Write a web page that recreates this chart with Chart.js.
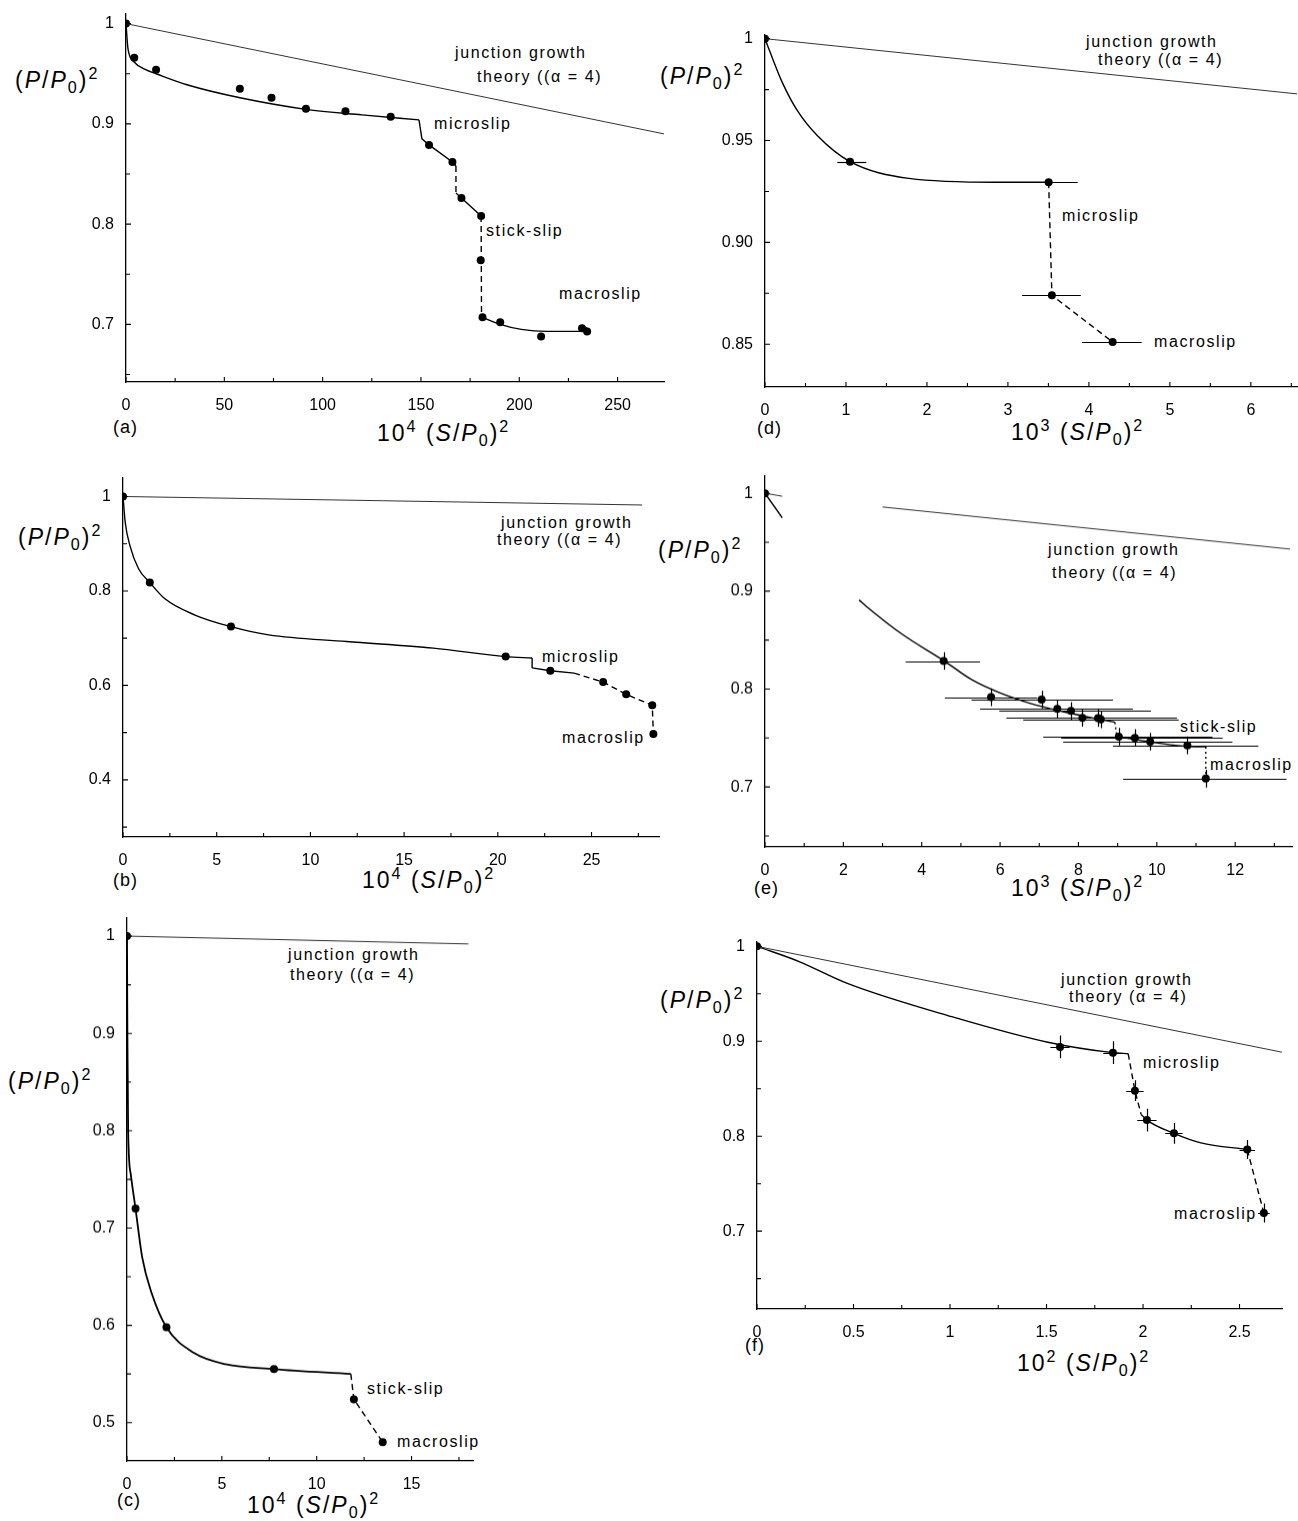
<!DOCTYPE html>
<html>
<head>
<meta charset="utf-8">
<script src="https://cdn.jsdelivr.net/npm/chart.js@4.4.1/dist/chart.umd.min.js"></script>
<style>
  body { margin: 0; background: #fff; width: 1298px; height: 1521px; position: relative; overflow: hidden;
         font-family: "Liberation Sans", Arial, sans-serif; color: #000; }
  canvas { position: absolute; }
  .t { position: absolute; white-space: nowrap; transform: translateY(-50%); line-height: 1; }
  .note { font-size: 16px; letter-spacing: 1.6px; }
  .ttl { font-size: 23px; letter-spacing: 2px; }
  .tag { font-size: 18px; letter-spacing: 1px; }
  sup { font-size: 0.7em; vertical-align: 0.55em; }
  sub { font-size: 0.7em; vertical-align: -0.3em; }
</style>
</head>
<body>

<!-- (a) -->
<div class="t ttl" style="left:15px;top:80px">(<i>P</i>/<i>P</i><sub>0</sub>)<sup>2</sup></div>
<div class="t tag" style="left:113px;top:427px">(a)</div>
<div class="t ttl" style="left:377px;top:433px">10<sup>4</sup> (<i>S</i>/<i>P</i><sub>0</sub>)<sup>2</sup></div>
<div class="t note" style="left:455px;top:53px">junction growth</div>
<div class="t note" style="left:477px;top:77px">theory ((α = 4)</div>
<div class="t note" style="left:434px;top:124px">microslip</div>
<div class="t note" style="left:486px;top:231px">stick-slip</div>
<div class="t note" style="left:559px;top:294px">macroslip</div>

<!-- (d) -->
<div class="t ttl" style="left:660px;top:76px">(<i>P</i>/<i>P</i><sub>0</sub>)<sup>2</sup></div>
<div class="t tag" style="left:757px;top:428px">(d)</div>
<div class="t ttl" style="left:1011px;top:432px">10<sup>3</sup> (<i>S</i>/<i>P</i><sub>0</sub>)<sup>2</sup></div>
<div class="t note" style="left:1086px;top:42px">junction growth</div>
<div class="t note" style="left:1098px;top:60px">theory ((α = 4)</div>
<div class="t note" style="left:1062px;top:216px">microslip</div>
<div class="t note" style="left:1154px;top:342px">macroslip</div>

<!-- (b) -->
<div class="t ttl" style="left:18px;top:537px">(<i>P</i>/<i>P</i><sub>0</sub>)<sup>2</sup></div>
<div class="t tag" style="left:113px;top:880px">(b)</div>
<div class="t ttl" style="left:362px;top:880px">10<sup>4</sup> (<i>S</i>/<i>P</i><sub>0</sub>)<sup>2</sup></div>
<div class="t note" style="left:501px;top:523px">junction growth</div>
<div class="t note" style="left:497px;top:540px">theory ((α = 4)</div>
<div class="t note" style="left:542px;top:657px">microslip</div>
<div class="t note" style="left:562px;top:738px">macroslip</div>

<!-- (e) -->
<div class="t ttl" style="left:658px;top:550px">(<i>P</i>/<i>P</i><sub>0</sub>)<sup>2</sup></div>
<div class="t tag" style="left:754px;top:888px">(e)</div>
<div class="t ttl" style="left:1011px;top:888px">10<sup>3</sup> (<i>S</i>/<i>P</i><sub>0</sub>)<sup>2</sup></div>
<div class="t note" style="left:1048px;top:550px">junction growth</div>
<div class="t note" style="left:1052px;top:573px">theory ((α = 4)</div>
<div class="t note" style="left:1180px;top:727px">stick-slip</div>
<div class="t note" style="left:1210px;top:765px">macroslip</div>

<!-- (c) -->
<div class="t ttl" style="left:8px;top:1081px">(<i>P</i>/<i>P</i><sub>0</sub>)<sup>2</sup></div>
<div class="t tag" style="left:117px;top:1500px">(c)</div>
<div class="t ttl" style="left:247px;top:1505px">10<sup>4</sup> (<i>S</i>/<i>P</i><sub>0</sub>)<sup>2</sup></div>
<div class="t note" style="left:288px;top:955px">junction growth</div>
<div class="t note" style="left:290px;top:975px">theory ((α = 4)</div>
<div class="t note" style="left:367px;top:1389px">stick-slip</div>
<div class="t note" style="left:397px;top:1442px">macroslip</div>

<!-- (f) -->
<div class="t ttl" style="left:660px;top:1000px">(<i>P</i>/<i>P</i><sub>0</sub>)<sup>2</sup></div>
<div class="t tag" style="left:745px;top:1345px">(f)</div>
<div class="t ttl" style="left:1017px;top:1363px">10<sup>2</sup> (<i>S</i>/<i>P</i><sub>0</sub>)<sup>2</sup></div>
<div class="t note" style="left:1061px;top:980px">junction growth</div>
<div class="t note" style="left:1069px;top:997px">theory (α = 4)</div>
<div class="t note" style="left:1143px;top:1063px">microslip</div>
<div class="t note" style="left:1174px;top:1214px">macroslip</div>

<script>
// ---- panel (a) ----
const aPtsX = [0, 4.2, 15.3, 57.9, 74.0, 91.5, 111.6, 134.6, 154.1, 166.0, 170.6, 180.6, 180.4, 181.3, 190.3, 211.1, 231.9, 234.5];
const aPtsY = [1.0, 0.966, 0.954, 0.935, 0.926, 0.915, 0.9125, 0.907, 0.879, 0.862, 0.826, 0.808, 0.764, 0.707, 0.702, 0.688, 0.696, 0.693];
const aTheory = [[0, 1.0], [273.6, 0.890]];
const aFitSmooth = [[0, 1], [1, 0.975], [4, 0.962], [10, 0.954], [15.3, 0.950], [31, 0.939], [58, 0.926], [91.5, 0.9145], [120, 0.909], [149, 0.904]];
const aFitDrop = [[149, 0.904], [150.5, 0.885], [154.1, 0.879], [166, 0.862], [167.8, 0.858]];
const aFitStep1 = [[167.8, 0.858], [167.8, 0.831]];
const aFitMid = [[167.8, 0.831], [170.6, 0.826], [180.6, 0.808]];
const aFitStep2 = [[180.6, 0.808], [180.8, 0.707]];
const aFitTail = [[181.3, 0.707], [190.3, 0.700], [201, 0.695], [214, 0.693], [232, 0.693], [234.5, 0.697]];
const aXTicks = [0, 50, 100, 150, 200, 250];
const aXMinor = [25, 75, 125, 175, 225];
const aYTicks = [0.7, 0.8, 0.9, 1];
const aYLabels = ['0.7', '0.8', '0.9', '1'];
const aYMinor = [0.65, 0.75, 0.85, 0.95];

// ---- panel (b) ----
const bPtsX = [0, 1.43, 5.76, 20.42, 22.8, 25.62, 26.85, 28.24, 28.3];
const bPtsY = [1.0, 0.818, 0.7245, 0.661, 0.631, 0.607, 0.581, 0.558, 0.497];
const bTheory = [[0, 1], [27.7, 0.982]];
const bFitSmooth = [[0, 1], [0.12, 0.945], [0.37, 0.896], [0.83, 0.847], [1.43, 0.818], [2.22, 0.784], [3.84, 0.749], [5.76, 0.7245], [7.77, 0.707], [11.93, 0.693], [16.56, 0.679], [20.42, 0.661], [21.83, 0.658]];
const bFitStep = [[21.83, 0.658], [21.83, 0.637]];
const bFitMid = [[21.83, 0.637], [22.8, 0.631], [24.07, 0.626]];
const bFitDash = [[24.07, 0.626], [25.62, 0.607], [26.85, 0.581], [28.24, 0.558], [28.3, 0.497]];
const bXTicks = [0, 5, 10, 15, 20, 25];
const bXMinor = [2.5, 7.5, 12.5, 17.5, 22.5, 27.5];
const bYTicks = [0.4, 0.6, 0.8, 1];
const bYLabels = ['0.4', '0.6', '0.8', '1'];
const bYMinor = [0.3, 0.5, 0.7, 0.9];

// ---- panel (c) ----
const cPtsX = [0, 0.45, 2.08, 7.75, 11.96, 13.48];
const cPtsY = [1.0, 0.72, 0.598, 0.555, 0.524, 0.48];
const cTheory = [[0, 1], [18.0, 0.992]];
const cFitSmooth = [[0, 1], [0.02, 0.9], [0.06, 0.8], [0.2, 0.755], [0.45, 0.72], [0.8, 0.67], [1.3, 0.633], [2.08, 0.598], [3.5, 0.572], [5.2, 0.560], [7.75, 0.555], [11.8, 0.550]];
const cFitDash = [[11.8, 0.550], [11.96, 0.524], [13.48, 0.48]];
const cXTicks = [0, 5, 10, 15];
const cXMinor = [2.5, 7.5, 12.5, 17.5];
const cYTicks = [0.5, 0.6, 0.7, 0.8, 0.9, 1];
const cYLabels = ['0.5', '0.6', '0.7', '0.8', '0.9', '1'];
const cYMinor = [0.55, 0.65, 0.75, 0.85, 0.95];

// ---- panel (d) ----
const dPtsX = [0, 1.05, 3.503, 3.543, 4.293];
const dPtsY = [1.0, 0.9396, 0.9295, 0.874, 0.8511];
const dErrLo = [null, 0.893, 3.16, 3.175, 3.916];
const dErrHi = [null, 1.251, 3.862, 3.90, 4.652];
const dTheory = [[0, 1], [6.57, 0.9729]];
const dFitSmooth = [[0, 1], [0.059, 0.9938], [0.216, 0.9783], [0.402, 0.9645], [0.648, 0.9523], [1.05, 0.9396], [1.776, 0.9314], [2.856, 0.9295], [3.503, 0.9295]];
const dFitDash = [[3.503, 0.9295], [3.543, 0.874], [4.293, 0.8511]];
const dXTicks = [0, 1, 2, 3, 4, 5, 6];
const dXMinor = [0.5, 1.5, 2.5, 3.5, 4.5, 5.5, 6.5];
const dYTicks = [0.85, 0.9, 0.95, 1];
const dYLabels = ['0.85', '0.90', '0.95', '1'];
const dYMinor = [0.875, 0.925, 0.975];

// ---- panel (e) ----
const ePtsX = [0, 4.56, 5.77, 7.06, 7.46, 7.81, 8.10, 8.50, 8.57, 9.03, 9.44, 9.83, 10.78, 11.25];
const ePtsY = [1.0, 0.8286, 0.7917, 0.7893, 0.7798, 0.7777, 0.7706, 0.7703, 0.769, 0.7513, 0.750, 0.7462, 0.7425, 0.7085];
const eErrLo = [null, 3.59, 4.59, 5.27, 5.49, 5.98, 6.16, 6.49, 6.59, 7.10, 7.56, 7.61, 8.88, 9.14];
const eErrHi = [null, 5.49, 6.95, 8.88, 9.39, 9.85, 10.51, 10.51, 10.56, 11.42, 11.68, 11.93, 12.59, 13.31];
const eErrY = [0, 0.009, 0.009, 0.009, 0.009, 0.009, 0.009, 0.009, 0.009, 0.009, 0.009, 0.009, 0.009, 0.009];
const eTheoryStub = [[0, 1], [0.44, 0.997]];
const eTheory = [[3.0, 0.986], [13.4, 0.943]];
const eFitStub = [[0, 1], [0.44, 0.975]];
const eFitSmooth = [[2.4, 0.891], [2.57, 0.885], [3.5, 0.856], [4.56, 0.829], [5.3, 0.809], [6.0, 0.796], [6.8, 0.785], [7.6, 0.777], [8.42, 0.770], [8.93, 0.766]];
const eFitStep1 = [[8.93, 0.766], [8.98, 0.7513]];
const eFitMid = [[9.03, 0.7513], [9.83, 0.746], [10.97, 0.741], [11.25, 0.741]];
const eFitStep2 = [[11.25, 0.741], [11.25, 0.7085]];
const eXTicks = [0, 2, 4, 6, 8, 10, 12];
const eXMinor = [1, 3, 5, 7, 9, 11, 13];
const eYTicks = [0.7, 0.8, 0.9, 1];
const eYLabels = ['0.7', '0.8', '0.9', '1'];
const eYMinor = [0.65, 0.75, 0.85, 0.95];

// ---- panel (f) ----
const fPtsX = [0, 1.57, 1.844, 1.958, 2.02, 2.16, 2.54, 2.626];
const fPtsY = [1.0, 0.894, 0.888, 0.848, 0.817, 0.803, 0.786, 0.719];
const fErrX = [0, 0.05, 0.05, 0.045, 0.05, 0.045, 0.04, 0.03];
const fErrY = [0, 0.012, 0.012, 0.011, 0.012, 0.011, 0.010, 0.010];
const fTheory = [[0, 1], [2.72, 0.8885]];
const fFitSmooth = [[0, 1], [0.218, 0.984], [0.468, 0.961], [1.008, 0.926], [1.507, 0.899], [1.844, 0.888], [1.923, 0.887]];
const fFitDash1 = [[1.923, 0.887], [1.958, 0.848], [1.99, 0.823]];
const fFitMid = [[1.99, 0.823], [2.02, 0.817], [2.16, 0.803], [2.3, 0.793], [2.54, 0.786]];
const fFitDash2 = [[2.54, 0.786], [2.626, 0.719]];
const fXTicks = [0, 0.5, 1, 1.5, 2, 2.5];
const fXMinor = [0.25, 0.75, 1.25, 1.75, 2.25];
const fYTicks = [0.7, 0.8, 0.9, 1];
const fYLabels = ['0.7', '0.8', '0.9', '1'];
const fYMinor = [0.65, 0.75, 0.85, 0.95];

Chart.defaults.font.family = '"Liberation Sans", Arial, sans-serif';
Chart.defaults.color = '#000';

const INK = '#000';

function xy(pairs) { return pairs.map(([x, y]) => ({ x, y })); }
function zip(xs, ys) { return xs.map((x, i) => ({ x, y: ys[i] })); }

function curve(pairs, opts = {}) {
    return {
        data: xy(pairs),
        borderColor: opts.color || INK,
        borderWidth: opts.width || 1.4,
        borderDash: opts.dash || [],
        pointRadius: 0,
        fill: false,
        tension: 0,
        cubicInterpolationMode: opts.smooth ? 'monotone' : 'default'
    };
}

function dots(xs, ys, extra = {}) {
    return Object.assign({
        data: zip(xs, ys),
        showLine: false,
        pointRadius: 4,
        pointBackgroundColor: INK,
        pointBorderWidth: 0
    }, extra);
}

const theory = (pairs) => curve(pairs, { color: '#333', width: 1 });
const DASH = [6, 4];
const DOT = [2, 3];

// error bars drawn through the chart scales
const errBars = {
    id: 'errBars',
    afterDatasetsDraw(chart) {
        const { ctx, scales: { x, y } } = chart;
        ctx.save();
        ctx.strokeStyle = INK;
        ctx.lineWidth = 1.2;
        chart.data.datasets.forEach(ds => {
            if (!ds.errLo && !ds.errX) return;
            ds.data.forEach((p, i) => {
                let lo = null, hi = null;
                if (ds.errLo && ds.errLo[i] != null) { lo = ds.errLo[i]; hi = ds.errHi[i]; }
                if (ds.errX && ds.errX[i]) { lo = p.x - ds.errX[i]; hi = p.x + ds.errX[i]; }
                const py = Math.round(y.getPixelForValue(p.y)) + 0.5;
                const px = Math.round(x.getPixelForValue(p.x)) + 0.5;
                ctx.beginPath();
                if (lo != null) {
                    ctx.moveTo(x.getPixelForValue(lo), py);
                    ctx.lineTo(x.getPixelForValue(hi), py);
                }
                if (ds.errY && ds.errY[i]) {
                    ctx.moveTo(px, y.getPixelForValue(p.y - ds.errY[i]));
                    ctx.lineTo(px, y.getPixelForValue(p.y + ds.errY[i]));
                }
                ctx.stroke();
            });
        });
        ctx.restore();
    }
};

// tick marks pointing into the plot, major and minor
function inTicks(p) {
    return {
        id: 'inTicks',
        afterDraw(chart) {
            const { ctx, chartArea: a, scales: { x, y } } = chart;
            ctx.save();
            ctx.strokeStyle = INK;
            ctx.lineWidth = 1.1;
            ctx.beginPath();
            const xm = (v, len) => { const px = x.getPixelForValue(v); ctx.moveTo(px, a.bottom); ctx.lineTo(px, a.bottom - len); };
            const ym = (v, len) => { const py = y.getPixelForValue(v); ctx.moveTo(a.left, py); ctx.lineTo(a.left + len, py); };
            p.xTicks.forEach(v => xm(v, 5));
            p.xMinor.forEach(v => { if (v <= p.xMax) xm(v, 4); });
            p.yTicks.forEach(v => ym(v, 5));
            p.yMinor.forEach(v => { if (v >= p.yMin) ym(v, 4); });
            ctx.stroke();
            ctx.restore();
        }
    };
}

const PAD_L = 70, PAD_T = 12, PAD_R = 14, PAD_B = 36;

function makePanel(p) {
    const c = document.createElement('canvas');
    const w = p.box.r - p.box.l + PAD_L + PAD_R;
    const h = p.box.b - p.box.t + PAD_T + PAD_B;
    c.width = w; c.height = h;
    c.style.width = w + 'px'; c.style.height = h + 'px';
    c.style.left = (p.box.l - PAD_L) + 'px';
    c.style.top = (p.box.t - PAD_T) + 'px';
    document.body.appendChild(c);

    const xLabels = p.xLabels || p.xTicks.map(String);
    new Chart(c, {
        type: 'line',
        data: { datasets: p.datasets },
        options: {
            responsive: false,
            animation: false,
            devicePixelRatio: 1,
            layout: { padding: { top: PAD_T, right: PAD_R, left: 0, bottom: 0 } },
            plugins: { legend: { display: false }, tooltip: { enabled: false } },
            scales: {
                x: {
                    type: 'linear', min: p.xMin, max: p.xMax,
                    grid: { display: false },
                    border: { color: INK, width: 1.3 },
                    afterFit: s => { s.height = PAD_B; },
                    afterBuildTicks: s => { s.ticks = p.xTicks.map(v => ({ value: v })); },
                    ticks: {
                        autoSkip: false, maxRotation: 0, padding: 6, color: INK,
                        font: { size: 16 },
                        callback: v => xLabels[p.xTicks.indexOf(v)]
                    }
                },
                y: {
                    type: 'linear', min: p.yMin, max: p.yMax,
                    grid: { display: false },
                    border: { color: INK, width: 1.3 },
                    afterFit: s => { s.width = PAD_L; },
                    afterBuildTicks: s => { s.ticks = p.yTicks.map(v => ({ value: v })); },
                    ticks: {
                        autoSkip: false, padding: 4, color: INK,
                        font: { size: 16 },
                        callback: v => p.yLabels[p.yTicks.indexOf(v)]
                    }
                }
            }
        },
        plugins: [inTicks(p), errBars]
    });
}

makePanel({
    box: { l: 126, t: 12, r: 664, b: 382 },
    xMin: 0, xMax: 273.6, yMin: 0.6425, yMax: 1.01,
    xTicks: aXTicks, xMinor: aXMinor, yTicks: aYTicks, yLabels: aYLabels, yMinor: aYMinor,
    datasets: [
        theory(aTheory),
        curve(aFitSmooth, { smooth: true }),
        curve(aFitDrop),
        curve(aFitStep1, { dash: DASH }),
        curve(aFitMid),
        curve(aFitStep2, { dash: DASH }),
        curve(aFitTail, { smooth: true }),
        dots(aPtsX, aPtsY)
    ]
});

makePanel({
    box: { l: 765, t: 33, r: 1297, b: 387 },
    xMin: 0, xMax: 6.57, yMin: 0.829, yMax: 1.002,
    xTicks: dXTicks, xMinor: dXMinor, yTicks: dYTicks, yLabels: dYLabels, yMinor: dYMinor,
    datasets: [
        theory(dTheory),
        curve(dFitSmooth, { smooth: true }),
        curve(dFitDash, { dash: DASH }),
        dots(dPtsX, dPtsY, { errLo: dErrLo, errHi: dErrHi })
    ]
});

makePanel({
    box: { l: 122.5, t: 475.5, r: 658.8, b: 837 },
    xMin: 0, xMax: 28.6, yMin: 0.279, yMax: 1.04,
    xTicks: bXTicks, xMinor: bXMinor, yTicks: bYTicks, yLabels: bYLabels, yMinor: bYMinor,
    datasets: [
        theory(bTheory),
        curve(bFitSmooth, { smooth: true }),
        curve(bFitStep),
        curve(bFitMid),
        curve(bFitDash, { dash: DASH }),
        dots(bPtsX, bPtsY)
    ]
});

makePanel({
    box: { l: 764.5, t: 474.4, r: 1291.7, b: 847.3 },
    xMin: 0, xMax: 13.45, yMin: 0.6387, yMax: 1.018,
    xTicks: eXTicks, xMinor: eXMinor, yTicks: eYTicks, yLabels: eYLabels, yMinor: eYMinor,
    datasets: [
        theory(eTheoryStub),
        theory(eTheory),
        curve(eFitStub),
        curve(eFitSmooth, { smooth: true }),
        curve(eFitStep1, { dash: DOT }),
        curve(eFitMid, { smooth: true }),
        curve(eFitStep2, { dash: DOT }),
        dots(ePtsX, ePtsY, { errLo: eErrLo, errHi: eErrHi, errY: eErrY })
    ]
});

makePanel({
    box: { l: 126.7, t: 916.3, r: 473.3, b: 1460.7 },
    xMin: 0, xMax: 18.24, yMin: 0.4606, yMax: 1.019,
    xTicks: cXTicks, xMinor: cXMinor, yTicks: cYTicks, yLabels: cYLabels, yMinor: cYMinor,
    datasets: [
        theory(cTheory),
        curve(cFitSmooth, { smooth: true, width: 1.8 }),
        curve(cFitDash, { dash: DASH }),
        dots(cPtsX, cPtsY)
    ]
});

makePanel({
    box: { l: 756.7, t: 939.7, r: 1282.5, b: 1309.3 },
    xMin: 0, xMax: 2.72, yMin: 0.618, yMax: 1.005,
    xTicks: fXTicks, xMinor: fXMinor, yTicks: fYTicks, yLabels: fYLabels, yMinor: fYMinor,
    datasets: [
        theory(fTheory),
        curve(fFitSmooth, { smooth: true }),
        curve(fFitDash1, { dash: DASH }),
        curve(fFitMid, { smooth: true }),
        curve(fFitDash2, { dash: DASH }),
        dots(fPtsX, fPtsY, { errX: fErrX, errY: fErrY })
    ]
});
</script>
</body>
</html>
